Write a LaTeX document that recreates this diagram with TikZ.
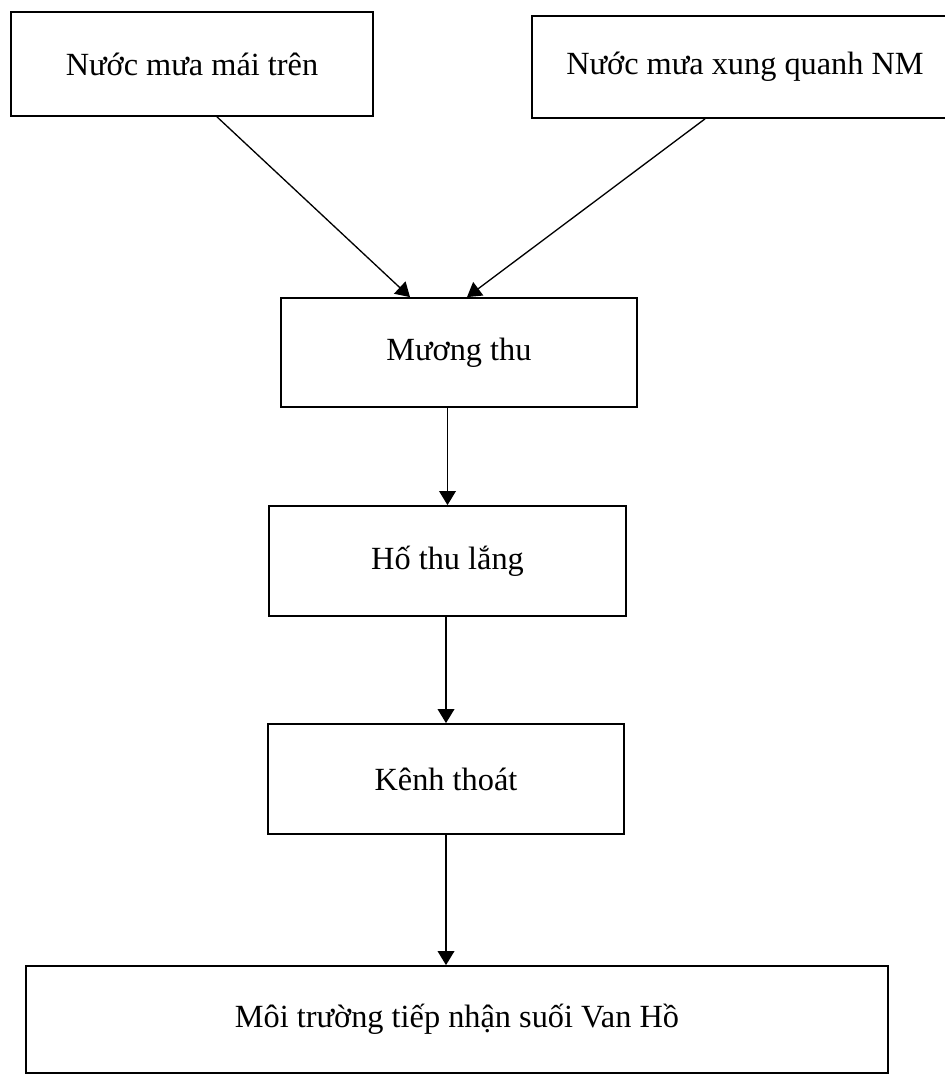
\documentclass[tikz,border=0pt]{standalone}
\usepackage{fontspec}
\setmainfont{Liberation Serif}
\usepackage{tikz}
\usetikzlibrary{arrows.meta, positioning, calc}

\begin{document}
\begin{tikzpicture}[x=0.02cm, y=-0.02cm, line width=1pt,
    font=\fontsize{18.4}{22}\selectfont,
    box/.style={draw, rectangle, inner sep=0pt},
    flow/.style={-{Triangle[length=8pt, width=9.5pt]}, line width=0.75pt}]
  % page frame (pixel units, y downwards)
  \useasboundingbox (0,0) rectangle (944,1074);

  %--- sources ---
  \node[box, minimum width=362*0.02cm, minimum height=104*0.02cm]
    (nmt) at (192,64) {Nước mưa mái trên};
  \node[box, minimum width=426*0.02cm, minimum height=102*0.02cm]
    (nxq) at (745,67) {Nước mưa xung quanh NM};

  %--- treatment chain ---
  \node[box, minimum width=356*0.02cm, minimum height=109*0.02cm]
    (mt) at (459,352.5) {Mương thu};
  \node[box, minimum width=357*0.02cm, minimum height=110*0.02cm]
    (htl) at (447.5,561) {Hố thu lắng};
  \node[box, minimum width=356*0.02cm, minimum height=110*0.02cm]
    (kt) at (446,779) {Kênh thoát};

  %--- receiving body ---
  \node[box, minimum width=862*0.02cm, minimum height=107*0.02cm]
    (mtn) at (457,1019.5) {Môi trường tiếp nhận suối Van Hồ};

  % arrows
  \draw[flow] ($(nmt.south)+(25,0)$) -- ($(mt.north)+(-49,0)$);
  \draw[flow] ($(nxq.south)+(-40,0)$) -- ($(mt.north)+(8,0)$);
  \draw[flow] (htl.north |- mt.south) -- (htl.north);
  \draw[flow] (kt.north |- htl.south) -- (kt.north);
  \draw[flow] (kt.south) -- (kt.south |- mtn.north);
\end{tikzpicture}
\end{document}
